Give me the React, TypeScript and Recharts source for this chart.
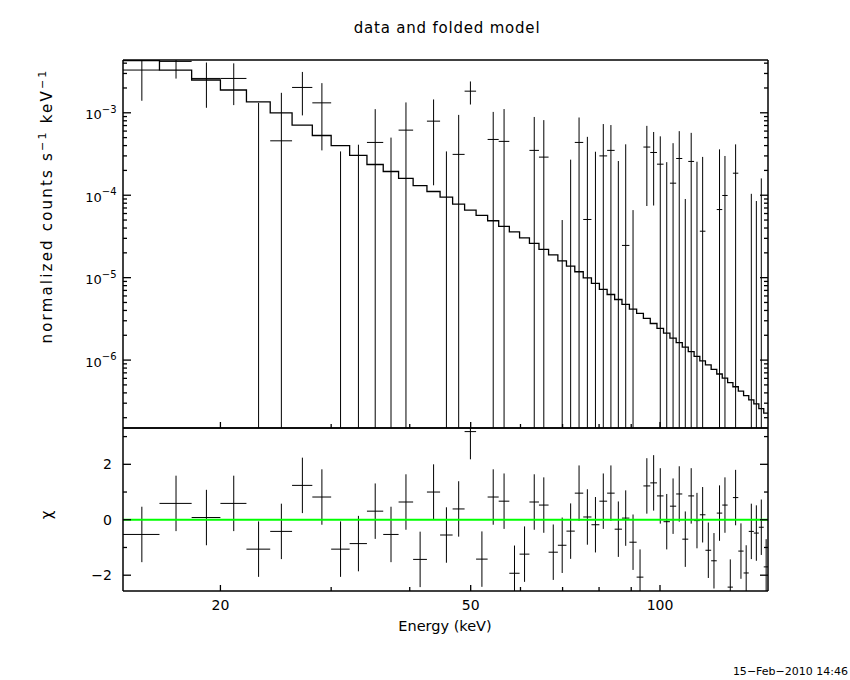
import React from "react";
import { ComposedChart, Line, XAxis, YAxis, ReferenceLine } from "recharts";

// spectral bins (keV), 59 channels
const binEdges = [
  14, 16, 18, 20, 22, 24, 26, 28, 30, 32.1, 34.2, 36.3, 38.4, 40.5, 42.6, 44.7,
  46.8, 48.9, 51.0, 53.2, 55.4, 57.6, 59.8, 62.0, 64.2, 66.5, 68.8, 71.0, 73.2,
  75.5, 77.8, 80.1, 82.4, 84.7, 87.0, 89.4, 91.8, 94.1, 96.5, 98.9, 101.3,
  103.7, 106.1, 108.5, 110.9, 113.3, 115.7, 118.1, 120.6, 123.1, 125.6, 128.1,
  130.6, 133.2, 135.8, 138.4, 141.0, 143.6, 146.2, 148.8,
];

// folded model, counts s^-1 keV^-1
const modelRate = [
  4.3e-3, 3.3e-3, 2.5e-3, 1.89e-3, 1.36e-3, 1.0e-3, 7.1e-4, 5.3e-4, 4.0e-4,
  3.04e-4, 2.36e-4, 1.94e-4, 1.6e-4, 1.31e-4, 1.11e-4, 9.5e-5, 7.8e-5, 6.6e-5,
  5.7e-5, 4.9e-5, 4.2e-5, 3.6e-5, 3.04e-5, 2.6e-5, 2.2e-5, 1.89e-5, 1.6e-5,
  1.38e-5, 1.18e-5, 9.95e-6, 8.5e-6, 7.2e-6, 6.25e-6, 5.43e-6, 4.73e-6,
  4.15e-6, 3.68e-6, 3.21e-6, 2.78e-6, 2.43e-6, 2.12e-6, 1.85e-6, 1.63e-6,
  1.44e-6, 1.27e-6, 1.11e-6, 9.8e-7, 8.75e-7, 7.7e-7, 6.78e-7, 6.03e-7,
  5.32e-7, 4.75e-7, 4.2e-7, 3.7e-7, 3.29e-7, 2.94e-7, 2.57e-7, 2.27e-7,
];

// measured rate and 1-sigma error (negative rates are not shown on the log plot)
const dataRate = [
  3.3e-3, 4.2e-3, 2.61e-3, 2.61e-3, -1.0e-4, 4.57e-4, 2.03e-3, 1.32e-3, -7.0e-4,
  -3.2e-4, 4.37e-4, -1.6e-4, 6.16e-4, -8.0e-4, 7.92e-4, -2.3e-4, 3.13e-4,
  1.83e-3, -7.4e-4, 4.75e-4, 4.5e-4, -9.7e-4, -5.9e-4, 3.5e-4, 2.9e-4, -5.2e-4,
  -3.9e-4, -1.6e-4, 4.37e-4, 5.08e-5, -6.3e-5, 3.0e-4, 3.5e-4, -1.26e-4,
  2.46e-5, -2.6e-4, -6.6e-4, 3.84e-4, 3.3e-4, 2.38e-4, -1.7e-5, 1.4e-4,
  2.79e-4, -2.04e-4, 2.57e-4, -7.0e-6, 3.66e-5, -2.85e-4, -3.7e-4, 6.7e-5,
  9.93e-5, -5.6e-4, 1.85e-4, -2.26e-4, -3.84e-4, -7.4e-5, -7.9e-5, -5.9e-5,
  -3.4e-4,
];

const dataErr = [
  1.9e-3, 1.6e-3, 1.46e-3, 1.37e-3, 1.42e-3, 1.29e-3, 1.1e-3, 9.7e-4, 1.04e-3,
  7.3e-4, 6.7e-4, 6.6e-4, 7.2e-4, 6.5e-4, 6.6e-4, 5.7e-4, 6.3e-4, 5.7e-4,
  5.6e-4, 5.5e-4, 6.6e-4, 5.2e-4, 5.0e-4, 5.4e-4, 5.25e-4, 4.6e-4, 4.4e-4,
  4.3e-4, 4.4e-4, 4.6e-4, 4.0e-4, 4.3e-4, 3.6e-4, 3.86e-4, 3.9e-4, 3.26e-4,
  3.2e-4, 3.1e-4, 2.55e-4, 2.8e-4, 2.69e-4, 2.88e-4, 3.2e-4, 2.94e-4, 3.14e-4,
  2.62e-4, 2.55e-4, 2.6e-4, 2.5e-4, 2.93e-4, 2.0e-4, 2.3e-4, 2.29e-4, 2.0e-4,
  2.0e-4, 1.78e-4, 1.64e-4, 2.19e-4, 2.0e-4,
];

// residuals (data - model) / error
const chi = [
  -0.53, 0.59, 0.08, 0.59, -1.06, -0.42, 1.24, 0.82, -1.06, -0.86, 0.31, -0.53,
  0.64, -1.43, 1.0, -0.55, 0.39, 3.18, -1.42, 0.82, 0.67, -1.93, -1.24, 0.64,
  0.53, -1.17, -0.92, -0.41, 0.96, 0.1, -0.18, 0.67, 0.96, -0.34, 0.06, -0.81,
  -2.07, 1.22, 1.33, 0.86, -0.07, 0.49, 0.93, -0.7, 0.86, -0.03, 0.18, -1.1,
  -1.48, 0.24, 0.53, -2.43, 0.8, -1.13, -1.92, -0.42, -0.48, -0.27, -1.7,
];

const xMajorTicks = [20, 50, 100];
const xMinorTicks = [30, 40, 60, 70, 80, 90];
const yMajorTicks = [1e-6, 1e-5, 1e-4, 1e-3];
const chiMajorTicks = [-2, 0, 2];
const chiMinorTicks = [-1, 1, 3];

const xDomain = [14, 148.5];
const rateDomain = [1.5e-7, 4.37e-3];
const chiDomain = [-2.57, 3.31];

const yMinorTicks = [1e-7, 1e-6, 1e-5, 1e-4, 1e-3]
  .flatMap((d) => [2, 3, 4, 5, 6, 7, 8, 9].map((m) => m * d))
  .filter((v) => v > rateDomain[0] && v < rateDomain[1]);

const FONT = "'DejaVu Sans', sans-serif";
const FRAME = { stroke: "#000", strokeWidth: 1.5 };
const FLOOR = 1e-9;

const centers = binEdges.slice(0, -1).map((lo, i) => (lo + binEdges[i + 1]) / 2);

const modelSteps = modelRate
  .map((v, i) => ({ e: binEdges[i], v }))
  .concat([{ e: binEdges[binEdges.length - 1], v: modelRate[modelRate.length - 1] }]);

type Pt = { e: number; v: number | null };

// crosses are drawn as broken polylines: a null point ends each segment
const rateH: Pt[] = [];
const rateV: Pt[] = [];
dataRate.forEach((r, i) => {
  const err = dataErr[i];
  if (r + err <= 0) return;
  if (r > 0) {
    rateH.push({ e: binEdges[i], v: r }, { e: binEdges[i + 1], v: r }, { e: binEdges[i + 1], v: null });
  }
  rateV.push({ e: centers[i], v: Math.max(r - err, FLOOR) }, { e: centers[i], v: r + err }, { e: centers[i], v: null });
});

const chiH: Pt[] = [];
const chiV: Pt[] = [];
chi.forEach((c, i) => {
  chiH.push({ e: binEdges[i], v: c }, { e: binEdges[i + 1], v: c }, { e: binEdges[i + 1], v: null });
  chiV.push({ e: centers[i], v: c - 1 }, { e: centers[i], v: c + 1 }, { e: centers[i], v: null });
});

const isIn = (list: number[], v: number) =>
  list.some((m) => Math.abs(m - v) <= Math.abs(m) * 1e-6 + 1e-12);

type TickProps = { x?: number; y?: number; payload?: { value: number } };

// tick marks point into the frame, like the PGPLOT original
function makeTick(side: "right" | "top" | "bottom", major: number[], majorLen: number, minorLen: number) {
  return function Tick({ x = 0, y = 0, payload }: TickProps) {
    const v = payload ? payload.value : 0;
    const len = isIn(major, v) ? majorLen : minorLen;
    const x2 = side === "right" ? x - len : x;
    const y2 = side === "top" ? y + len : side === "bottom" ? y - len : y;
    return <line x1={x} y1={y} x2={x2} y2={y2} stroke="#000" strokeWidth={1.3} />;
  };
}

function RateLeftTick({ x = 0, y = 0, payload }: TickProps) {
  const v = payload ? payload.value : 0;
  const big = isIn(yMajorTicks, v);
  return (
    <g>
      <line x1={x} y1={y} x2={x + (big ? 8 : 4)} y2={y} stroke="#000" strokeWidth={1.3} />
      {big && (
        <text x={x - 6.5} y={y + 6.5} textAnchor="end" fontSize={13} fontFamily={FONT} fill="#000">
          10
          <tspan dy={-6.5} fontSize={10}>
            {"\u2212" + Math.abs(Math.round(Math.log10(v)))}
          </tspan>
        </text>
      )}
    </g>
  );
}

function ChiLeftTick({ x = 0, y = 0, payload }: TickProps) {
  const v = payload ? payload.value : 0;
  const big = isIn(chiMajorTicks, v);
  return (
    <g>
      <line x1={x} y1={y} x2={x + (big ? 8 : 4)} y2={y} stroke="#000" strokeWidth={1.3} />
      {big && (
        <text x={x - 11} y={y + 5} textAnchor="end" fontSize={14} fontFamily={FONT} fill="#000">
          {v < 0 ? "\u2212" + Math.abs(v) : String(v)}
        </text>
      )}
    </g>
  );
}

function EnergyBottomTick({ x = 0, y = 0, payload }: TickProps) {
  const v = payload ? payload.value : 0;
  const big = isIn(xMajorTicks, v);
  return (
    <g>
      <line x1={x} y1={y} x2={x} y2={y - (big ? 6 : 4)} stroke="#000" strokeWidth={1.3} />
      {big && (
        <text x={x} y={y + 19} textAnchor="middle" fontSize={14} fontFamily={FONT} fill="#000">
          {v}
        </text>
      )}
    </g>
  );
}

const PlainBottomTick = makeTick("bottom", xMajorTicks, 6, 4);
const TopTick = makeTick("top", xMajorTicks, 6, 4);
const RateRightTick = makeTick("right", yMajorTicks, 8, 4);
const ChiRightTick = makeTick("right", chiMajorTicks, 8, 4);

const allX = [...xMajorTicks, ...xMinorTicks].sort((a, b) => a - b);
const allRate = [...yMinorTicks, ...yMajorTicks].sort((a, b) => a - b);
const allChi = [...chiMajorTicks, ...chiMinorTicks].sort((a, b) => a - b);

const lineProps = {
  dot: false,
  activeDot: false,
  isAnimationActive: false,
  stroke: "#000",
  dataKey: "v",
  xAxisId: "b",
  legendType: "none" as const,
};

export default function App() {
  return (
    <div style={{ position: "absolute", left: 0, top: 0, width: 850, height: 680, background: "#fff" }}>
      <div style={{ position: "absolute", left: 0, top: 0 }}>
        <ComposedChart width={850} height={429} margin={{ top: 59, right: 81, bottom: 0, left: 0 }}>
          <XAxis xAxisId="b" dataKey="e" type="number" scale="log" domain={xDomain} allowDataOverflow
            orientation="bottom" height={1} ticks={allX} interval={0} tickSize={0} tickMargin={0}
            tickLine={false} axisLine={FRAME} tick={<PlainBottomTick />} />
          <XAxis xAxisId="t" type="number" scale="log" domain={xDomain} allowDataOverflow
            orientation="top" height={1} ticks={allX} interval={0} tickSize={0} tickMargin={0}
            tickLine={false} axisLine={FRAME} tick={<TopTick />} />
          <YAxis yAxisId="l" type="number" scale="log" domain={rateDomain} allowDataOverflow
            width={123} ticks={allRate} interval={0} tickSize={0} tickMargin={0}
            tickLine={false} axisLine={FRAME} tick={<RateLeftTick />} />
          <YAxis yAxisId="r" orientation="right" type="number" scale="log" domain={rateDomain} allowDataOverflow
            width={1} ticks={allRate} interval={0} tickSize={0} tickMargin={0}
            tickLine={false} axisLine={FRAME} tick={<RateRightTick />} />
          <Line {...lineProps} yAxisId="l" data={modelSteps} type="stepAfter" strokeWidth={1.3} />
          <Line {...lineProps} yAxisId="l" data={rateH} type="linear" strokeWidth={1} />
          <Line {...lineProps} yAxisId="l" data={rateV} type="linear" strokeWidth={1} />
        </ComposedChart>
      </div>
      <div style={{ position: "absolute", left: 0, top: 427 }}>
        <ComposedChart width={850} height={253} margin={{ top: 0, right: 81, bottom: 59, left: 0 }}>
          <XAxis xAxisId="b" dataKey="e" type="number" scale="log" domain={xDomain} allowDataOverflow
            orientation="bottom" height={30} ticks={allX} interval={0} tickSize={0} tickMargin={0}
            tickLine={false} axisLine={FRAME} tick={<EnergyBottomTick />} />
          <XAxis xAxisId="t" type="number" scale="log" domain={xDomain} allowDataOverflow
            orientation="top" height={1} ticks={allX} interval={0} tickSize={0} tickMargin={0}
            tickLine={false} axisLine={FRAME} tick={<TopTick />} />
          <YAxis yAxisId="l" type="number" domain={chiDomain} allowDataOverflow
            width={123} ticks={allChi} interval={0} tickSize={0} tickMargin={0}
            tickLine={false} axisLine={FRAME} tick={<ChiLeftTick />} />
          <YAxis yAxisId="r" orientation="right" type="number" domain={chiDomain} allowDataOverflow
            width={1} ticks={allChi} interval={0} tickSize={0} tickMargin={0}
            tickLine={false} axisLine={FRAME} tick={<ChiRightTick />} />
          <Line {...lineProps} yAxisId="l" data={chiH} type="linear" strokeWidth={1} />
          <Line {...lineProps} yAxisId="l" data={chiV} type="linear" strokeWidth={1} />
          <ReferenceLine xAxisId="b" yAxisId="l" y={0} stroke="#00ff00" strokeWidth={2.2} />
        </ComposedChart>
      </div>
      <svg width={850} height={680} style={{ position: "absolute", left: 0, top: 0, pointerEvents: "none" }}>
        <text x={447} y={33} textAnchor="middle" fontSize={15} fontFamily={FONT} letterSpacing={0.8} fill="#000">
          data and folded model
        </text>
        <text transform="translate(52,206) rotate(-90)" textAnchor="middle" fontSize={15} fontFamily={FONT} letterSpacing={2.2} fill="#000">
          normalized counts  s
          <tspan dy={-6} fontSize={11}>{"\u22121"}</tspan>
          <tspan dy={6}>{"  keV"}</tspan>
          <tspan dy={-6} fontSize={11}>{"\u22121"}</tspan>
        </text>
        <text transform="translate(52,515) rotate(-90)" textAnchor="middle" fontSize={15} fontFamily={FONT} fill="#000">
          {"\u03c7"}
        </text>
        <text x={445} y={631} textAnchor="middle" fontSize={14.5} fontFamily={FONT} fill="#000">
          Energy (keV)
        </text>
        <text x={848} y={675} textAnchor="end" fontSize={11} fontFamily={FONT} fill="#000">
          15{"\u2212"}Feb{"\u2212"}2010 14:46
        </text>
      </svg>
    </div>
  );
}
